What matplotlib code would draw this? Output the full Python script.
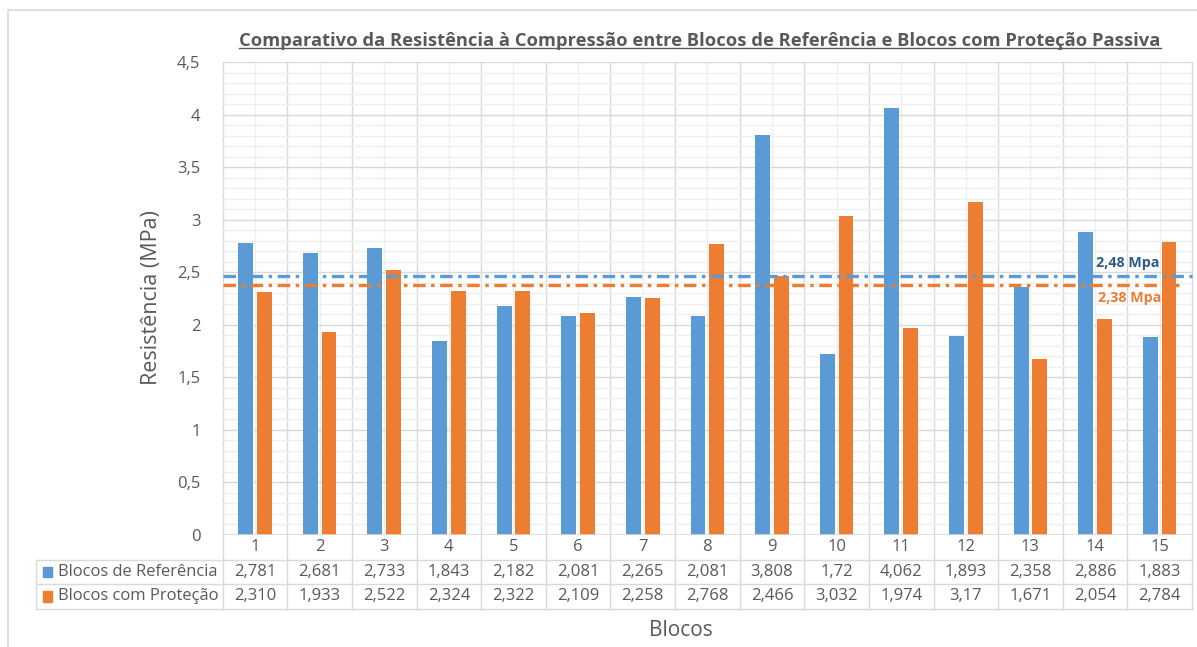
import matplotlib.pyplot as plt
from matplotlib.ticker import MultipleLocator, FuncFormatter
from matplotlib.patches import Rectangle
import numpy as np

plt.rcParams['font.family'] = ['Open Sans', 'DejaVu Sans']
plt.rcParams['lines.scale_dashes'] = False

blocos = [str(i) for i in range(1, 16)]
referencia = [2.781, 2.681, 2.733, 1.843, 2.182, 2.081, 2.265, 2.081, 3.808, 1.72, 4.062, 1.893, 2.358, 2.886, 1.883]
protecao = [2.310, 1.933, 2.522, 2.324, 2.322, 2.109, 2.258, 2.768, 2.466, 3.032, 1.974, 3.17, 1.671, 2.054, 2.784]
ref_labels = ['2,781', '2,681', '2,733', '1,843', '2,182', '2,081', '2,265', '2,081', '3,808', '1,72', '4,062', '1,893', '2,358', '2,886', '1,883']
prot_labels = ['2,310', '1,933', '2,522', '2,324', '2,322', '2,109', '2,258', '2,768', '2,466', '3,032', '1,974', '3,17', '1,671', '2,054', '2,784']
series_names = ['Blocos de Referência', 'Blocos com Proteção']
media_ref = 2.46
media_prot = 2.38
media_ref_label = '2,48 Mpa'
media_prot_label = '2,38 Mpa'

blue = '#5B9BD5'
orange = '#ED7D31'
gray = '#595959'
grid_major = '#D9D9D9'
grid_minor = '#EFEFEF'

W, H = 1197, 647
fig = plt.figure(figsize=(W / 100, H / 100), dpi=100)

# outer chart frame
fig.patches.append(Rectangle((8 / W, -0.1), 1.2, 1 - 10 / H + 0.1, transform=fig.transFigure,
                             fill=False, edgecolor=grid_major, linewidth=1.2))

left, right, top, bottom = 222.7, 1192, 62, 535
ax = fig.add_axes([left / W, 1 - bottom / H, (right - left) / W, (bottom - top) / H])

x = np.arange(1, len(blocos) + 1)
ax.bar(x - 0.145, referencia, width=0.23, color=blue, zorder=3)
ax.bar(x + 0.145, protecao, width=0.23, color=orange, zorder=3)

ax.set_xlim(0.5, len(blocos) + 0.5)
ax.set_ylim(0, 4.5)
ax.yaxis.set_major_locator(MultipleLocator(0.5))
ax.yaxis.set_minor_locator(MultipleLocator(0.1))
ax.yaxis.set_major_formatter(FuncFormatter(lambda v, p: ('%g' % v).replace('.', ',')))
ax.set_xticks(x)
ax.set_xticklabels(blocos)
ax.set_xticks(np.arange(0.5, len(blocos) + 1, 1), minor=True)
ax.tick_params(axis='both', which='both', length=0, colors=gray, labelsize=12)
ax.tick_params(axis='y', pad=16)
ax.tick_params(axis='x', pad=3)
ax.grid(axis='y', which='major', color=grid_major, linewidth=1, zorder=0)
ax.grid(axis='y', which='minor', color=grid_minor, linewidth=1, zorder=0)
for xc in x:
    ax.axvline(xc, color=grid_minor, linewidth=1, zorder=0)
for s in ax.spines.values():
    s.set_visible(False)
ax.axhline(0, color=grid_major, linewidth=1.2, zorder=4)

# mean lines
ax.plot([0.5, 15.5], [media_ref, media_ref], color=blue, linewidth=2.4,
        dashes=(9, 4, 2.5, 4), zorder=5, clip_on=False)
ax.plot([0.5, 15.3], [media_prot, media_prot], color=orange, linewidth=2.4,
        dashes=(9, 4, 2.5, 4), zorder=5, clip_on=False)
ax.text(14.01, media_ref + 0.06, media_ref_label, color='#2E5C8A', fontsize=10.3,
        fontweight='bold', va='bottom', ha='left', zorder=6)
ax.text(14.05, media_prot - 0.06, media_prot_label, color=orange, fontsize=10.3,
        fontweight='bold', va='top', ha='left', zorder=6)

# data table below the axis
h_ax = bottom - top
row_y = [-(560 - bottom) / h_ax, -(584 - bottom) / h_ax, -(609 - bottom) / h_ax]
tab_left = (35.7 - left) / (right - left)
xt = ax.get_xaxis_transform()
for b in np.arange(0.5, len(blocos) + 1, 1):
    ax.plot([b, b], [1, row_y[2]], transform=xt, color=grid_major, linewidth=1,
            clip_on=False, zorder=1)
for ry in row_y:
    ax.plot([tab_left, 1], [ry, ry], transform=ax.transAxes, color=grid_major,
            linewidth=1, clip_on=False)
ax.plot([tab_left, tab_left], [row_y[0], row_y[2]], transform=ax.transAxes,
        color=grid_major, linewidth=1, clip_on=False)

rows = [ref_labels, prot_labels]
colors = [blue, orange]
for r, (labels, c, name) in enumerate(zip(rows, colors, series_names)):
    yc = (row_y[r] + row_y[r + 1]) / 2
    for xi, lab in zip(x, labels):
        ax.text(xi, yc, lab, transform=xt, ha='center', va='center',
                color=gray, fontsize=12)
    ax.add_patch(Rectangle(((42.5 - left) / (right - left), yc - 0.011), 9.5 / (right - left),
                           0.022, transform=ax.transAxes, color=c, clip_on=False))
    ax.text((57.5 - left) / (right - left), yc, name, transform=ax.transAxes,
            ha='left', va='center', color=gray, fontsize=11.9)

# labels and title
fig.text(151 / W, 1 - 298 / H, 'Resistência (MPa)', rotation=90, ha='center',
         va='center', color=gray, fontsize=15.5)
fig.text(681 / W, 1 - 631 / H, 'Blocos', ha='center', va='center', color=gray, fontsize=15)
title = fig.text(700 / W, 1 - 41 / H,
                 'Comparativo da Resistência à Compressão entre Blocos de Referência e Blocos com Proteção Passiva',
                 ha='center', va='center', color=gray, fontsize=13.2, fontweight='bold')

fig.canvas.draw()
bb = title.get_window_extent().transformed(fig.transFigure.inverted())
fig.add_artist(plt.Line2D([bb.x0, bb.x1], [bb.y0 + 0.003, bb.y0 + 0.003],
                          transform=fig.transFigure, color=gray, linewidth=1))

fig.savefig('out.png', dpi=100)
